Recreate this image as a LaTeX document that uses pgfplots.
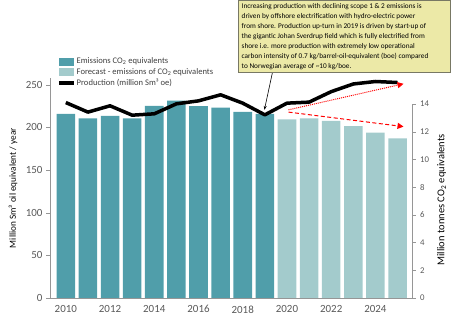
\documentclass[border=0pt]{standalone}
\usepackage{fontspec}
\setmainfont{Carlito}
\usepackage{pgfplots}
\pgfplotsset{compat=1.18}
\usetikzlibrary{arrows.meta}
\definecolor{teal1}{RGB}{80,158,170}
\definecolor{teal2}{RGB}{163,203,204}
\definecolor{tickgray}{RGB}{89,89,89}
\definecolor{legendgray}{RGB}{64,64,64}
\definecolor{axgray}{RGB}{150,150,150}
\definecolor{boxfill}{RGB}{236,233,167}
\definecolor{boxdraw}{RGB}{120,120,100}
\begin{document}
\begin{tikzpicture}[x=1bp,y=1bp]
\useasboundingbox (0,0) rectangle (451,322);
% right axis: emissions (bars)
\begin{axis}[
  at={(50bp,24bp)}, anchor=south west, scale only axis,
  width=361.7bp, height=194bp,
  xmin=2009.285, xmax=2025.64, ymin=0, ymax=14,
  axis x line=none, axis y line*=right,
  axis line style={-, draw=axgray},
  ytick={0,2,...,14},
  tick align=outside, major tick length=4bp,
  tick style={draw=axgray},
  yticklabel style={font=\fontsize{8.8}{9}\selectfont, text=tickgray, xshift=1bp},
  /pgf/number format/assume math mode=true,
  clip=false,
  ybar, bar width=0.84, bar shift=0pt,
  legend style={at={(0.0194,1.245)}, anchor=north west, draw=none, fill=none,
    font=\fontsize{8.6}{8.6}\selectfont, text=legendgray,
    row sep=0.6bp, inner sep=0pt,
    nodes={inner sep=1bp, text height=6.2bp, text depth=1.8bp}},
  legend cell align=left,
]
\addplot[fill=teal1, draw=none,
  legend image code/.code={\fill[teal1] (0bp,-4bp) rectangle (15bp,4bp);}]
  coordinates {(2010,13.28) (2011,12.97) (2012,13.15) (2013,12.97) (2014,13.87)
               (2015,14.25) (2016,13.85) (2017,13.74) (2018,13.44) (2019,13.28)};
\addlegendentry{Emissions CO\textsubscript{2} equivalents}
\addplot[fill=teal2, draw=none,
  legend image code/.code={\fill[teal2] (0bp,-4bp) rectangle (15bp,4bp);}]
  coordinates {(2020,12.89) (2021,12.97) (2022,12.79) (2023,12.41) (2024,11.93) (2025,11.52)};
\addlegendentry{Forecast - emissions of CO\textsubscript{2} equivalents}
\addlegendimage{legend image code/.code={\draw[black, line width=3.5bp] (0bp,0bp) -- (15bp,0bp);}}
\addlegendentry{Production (million Sm³ oe)}
\end{axis}
% left axis: production (line)
\begin{axis}[
  at={(50bp,24bp)}, anchor=south west, scale only axis,
  width=361.7bp, height=220bp,
  xmin=2009.285, xmax=2025.64, ymin=0, ymax=258,
  axis x line*=bottom, axis y line*=left,
  axis line style={-, draw=axgray},
  xtick={2010,2012,...,2024}, ytick={0,50,...,250},
  tick align=outside, major tick length=4bp,
  tick style={draw=axgray},
  x tick style={draw=none},
  xticklabel style={font=\fontsize{11}{11}\selectfont, text=tickgray, /pgf/number format/1000 sep={}},
  yticklabel style={font=\fontsize{11}{11}\selectfont, text=tickgray},
  /pgf/number format/assume math mode=true,
  clip=false,
]
\addplot[black, line width=3.5bp, line join=round, mark=none]
  coordinates {(2010,229.2) (2011,218) (2012,225.4) (2013,214.4) (2014,216)
               (2015,227.7) (2016,231.2) (2017,238.3) (2018,228.5) (2019,214.8)
               (2020,228.5) (2021,229.7) (2022,242) (2023,251) (2024,253.9) (2025,252.7)};
\draw[red, line width=1bp, densely dotted, -{Triangle[length=6bp,width=6bp]}]
  (axis cs:2020.07,220.7) -- (axis cs:2025.27,251.2);
\draw[red, line width=1bp, dash pattern=on 4bp off 2.5bp, -{Triangle[length=6bp,width=6bp]}]
  (axis cs:2020.07,218) -- (axis cs:2025.27,201);
\draw[black, line width=0.6bp, -{Stealth[length=4bp,width=3bp]}]
  (axis cs:2019.35,265.3) -- (axis cs:2018.98,220.7);
\end{axis}
\node[rotate=90, font=\fontsize{9.3}{9.3}\selectfont] at (13,134) {Million Sm³ oil equivalent / year};
\node[rotate=90, font=\fontsize{10.5}{10.5}\selectfont] at (441.7,122) {Million tonnes CO\textsubscript{2} equivalents};
\draw[draw=boxdraw, fill=boxfill, line width=0.8bp] (238,250) rectangle (450.5,321.5);
\node[anchor=north west, align=left, inner sep=0pt, font=\fontsize{7.3}{10}\selectfont] at (241.5,319)
{Increasing production with declining scope 1 \& 2 emissions is\\
driven by offshore electrification with hydro-electric power\\
from shore. Production up-turn in 2019 is driven by start-up of\\
the gigantic Johan Sverdrup field which is fully electrified from\\
shore i.e. more production with extremely low operational\\
carbon intensity of 0.7 kg/barrel-oil-equivalent (boe) compared\\
to Norwegian average of \textasciitilde10 kg/boe.};
\end{tikzpicture}
\end{document}
